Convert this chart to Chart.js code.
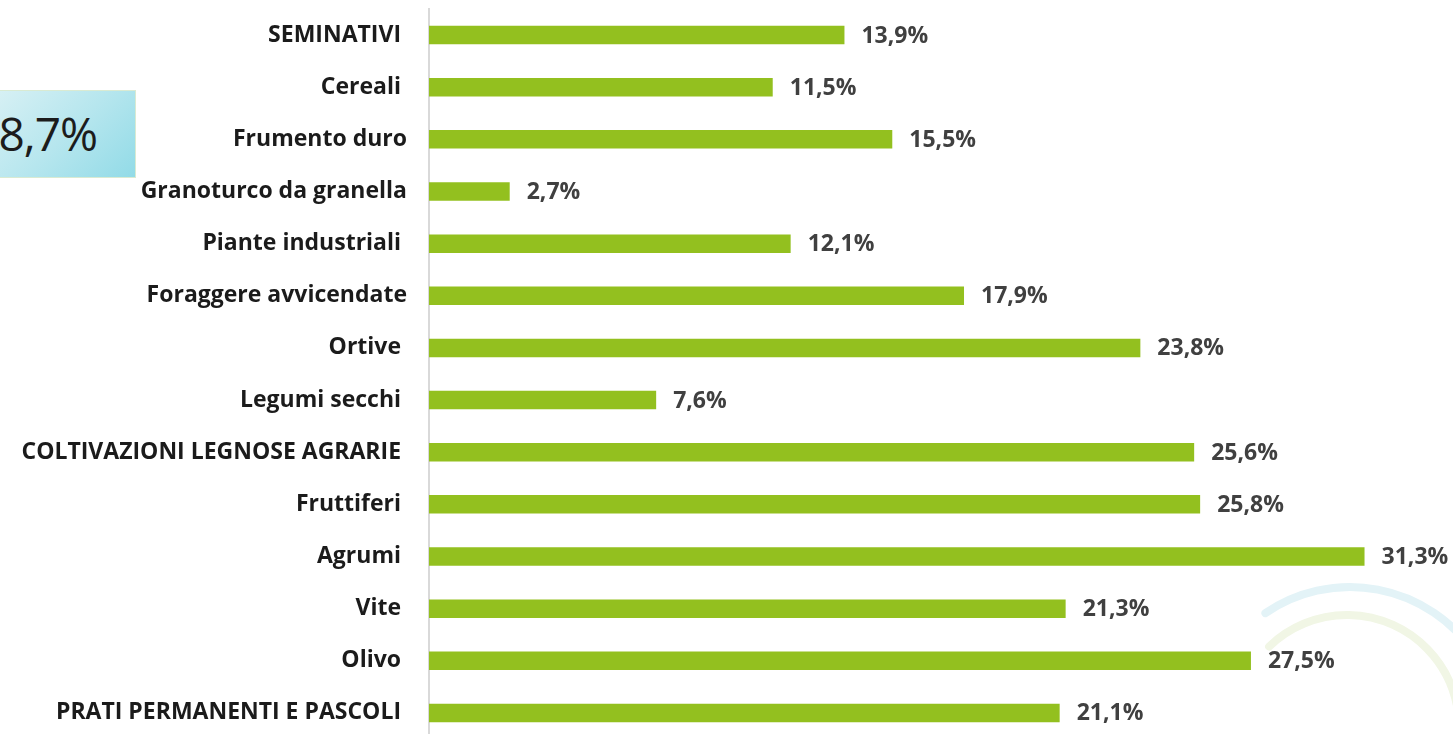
<!DOCTYPE html>
<html>
<head>
<meta charset="utf-8">
<script src="https://cdn.jsdelivr.net/npm/chart.js@4/dist/chart.umd.min.js"></script>
<style>
  html, body { margin: 0; padding: 0; background: #ffffff; overflow: hidden; }
  #wrap { position: relative; width: 1453px; height: 734px; overflow: hidden; }
  #chart { position: absolute; left: 0; top: 0; }
  #badge {
    position: absolute; left: -1px; top: 90px; width: 137px; height: 88px;
    background: linear-gradient(135deg, #d6f0f4 0%, #b6e6ee 50%, #92dbe7 100%);
    border: 1px solid #d9ead2; box-sizing: border-box;
  }
  #badge span {
    position: absolute; right: 38px; top: 50%; transform: translateY(-52%);
    font-family: "Open Sans", sans-serif; font-size: 46px; color: #1c1c1c;
    letter-spacing: -1px; white-space: nowrap;
  }
</style>
</head>
<body>
<div id="wrap">
  <canvas id="chart" width="1453" height="739"></canvas>
  <div id="badge"><span>8,7%</span></div>
</div>
<script>
const categories = [
  'SEMINATIVI ', 'Cereali ', 'Frumento duro', 'Granoturco da granella',
  'Piante industriali ', 'Foraggere avvicendate', 'Ortive ', 'Legumi secchi ',
  'COLTIVAZIONI LEGNOSE AGRARIE ', 'Fruttiferi ', 'Agrumi ', 'Vite ', 'Olivo ',
  'PRATI PERMANENTI E PASCOLI '
];
const values = [13.9, 11.5, 15.5, 2.7, 12.1, 17.9, 23.8, 7.6, 25.6, 25.8, 31.3, 21.3, 27.5, 21.1];

const barColor = '#93c01f';
const fontFamily = '"Open Sans", sans-serif';

// decorative arcs in the bottom right corner
const arcsPlugin = {
  id: 'arcs',
  beforeDraw(chart) {
    const ctx = chart.ctx;
    ctx.save();
    ctx.lineCap = 'round';
    ctx.lineWidth = 8;
    ctx.strokeStyle = '#e3f3f7';
    ctx.beginPath();
    ctx.arc(1350, 737, 150, -2.17, 0.2);
    ctx.stroke();
    ctx.strokeStyle = '#f1f6e5';
    ctx.beginPath();
    ctx.arc(1347, 727, 112, -2.34, 0.4);
    ctx.stroke();
    ctx.restore();
  }
};

// percentage label after each bar
const valueLabels = {
  id: 'valueLabels',
  afterDatasetsDraw(chart) {
    const ctx = chart.ctx;
    const meta = chart.getDatasetMeta(0);
    ctx.save();
    ctx.font = 'bold 23px ' + fontFamily;
    ctx.fillStyle = '#404040';
    ctx.textAlign = 'left';
    ctx.textBaseline = 'middle';
    meta.data.forEach((bar, i) => {
      const txt = values[i].toFixed(1).replace('.', ',') + '%';
      ctx.fillText(txt, bar.x + 17, bar.y + 1);
    });
    ctx.restore();
  }
};

const ctx = document.getElementById('chart').getContext('2d');
const chart = new Chart(ctx, {
  type: 'bar',
  data: {
    labels: categories,
    datasets: [{
      data: values,
      backgroundColor: barColor,
      borderWidth: 0,
      barPercentage: 0.355,
      categoryPercentage: 1
    }]
  },
  options: {
    indexAxis: 'y',
    responsive: false,
    animation: false,
    devicePixelRatio: 1,
    layout: { padding: { top: 9, bottom: 0, left: 0, right: 0 } },
    plugins: { legend: { display: false }, tooltip: { enabled: false } },
    scales: {
      x: {
        display: false,
        min: 0,
        max: 34.26
      },
      y: {
        afterFit(scale) {
          scale.width = 429;
          scale.paddingTop = 0;
          scale.paddingBottom = 0;
        },
        grid: { display: false, drawTicks: false },
        border: { display: true, color: '#d9d9d9', width: 2 },
        ticks: {
          autoSkip: false,
          padding: 22,
          color: '#1b1b1b',
          font: { family: fontFamily, size: 23, weight: 'bold' }
        }
      }
    }
  },
  plugins: [arcsPlugin, valueLabels]
});
</script>
</body>
</html>
